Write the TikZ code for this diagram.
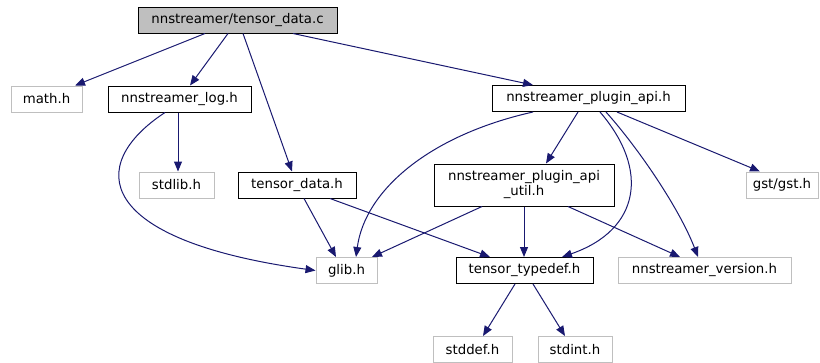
\documentclass[tikz,border=0pt]{standalone}
\usepackage{fontspec}
\setmainfont{DejaVu Sans}
\usepackage{tikz}
\usetikzlibrary{positioning,arrows.meta}
\definecolor{edgeblue}{RGB}{25,25,112}
\definecolor{sysgray}{RGB}{191,191,191}

\begin{document}
\begin{tikzpicture}[x=1pt, y=-1pt,
  filebox/.style={draw=black, line width=1pt, inner sep=0pt, minimum height=26pt, font=\fontsize{13.3}{15}\selectfont, align=center},
  sysbox/.style={filebox, draw=sysgray},
  curbox/.style={filebox, fill=sysgray},
  dep/.style={draw=edgeblue, line width=1pt, -{Triangle[length=10pt,width=8pt]}}]
\useasboundingbox (0,0) rectangle (820,362);
% files
\node[curbox, minimum width=199pt] (tdc) at (237.5,20) {nnstreamer/tensor\_data.c};
\node[sysbox, minimum width=71pt] (math) at (46.5,99) {math.h};
\node[filebox, minimum width=143pt] (log) at (179.5,99) {nnstreamer\_log.h};
\node[filebox, minimum width=193pt] (papi) at (588.5,98.5) {nnstreamer\_plugin\_api.h};
\node[sysbox, minimum width=75pt] (stdlib) at (176.5,185) {stdlib.h};
\node[filebox, minimum width=118pt] (tdh) at (297,185) {tensor\_data.h};
\node[filebox, minimum width=180pt, minimum height=42pt] (util) at (524,185) {nnstreamer\_plugin\_api\\\_util.h};
\node[sysbox, minimum width=72pt] (gst) at (782,185) {gst/gst.h};
\node[sysbox, minimum width=61pt] (glib) at (346.5,270.5) {glib.h};
\node[filebox, minimum width=137pt] (tdef) at (524.5,270.5) {tensor\_typedef.h};
\node[sysbox, minimum width=173pt] (ver) at (704.5,270.5) {nnstreamer\_version.h};
\node[sysbox, minimum width=79pt] (stddef) at (472.5,349.5) {stddef.h};
\node[sysbox, minimum width=74pt] (stdint) at (575,349.5) {stdint.h};
% includes
\draw[dep] (tdc.south -| 205,0) -- (math.north -| 75,0);
\draw[dep] (tdc.south -| 228,0) -- (log.north -| 190,0);
\draw[dep] (tdc.south -| 243,0) -- (tdh.north -| 292,0);
\draw[dep] (tdc.south -| 293,0) -- (papi.north -| 533,0);
\draw[dep] (log.south -| 178,0) -- (stdlib.north -| 178,0);
\draw[dep] (log.south -| 165,0) .. controls (85,165) and (95,240) .. (glib.west);
\draw[dep] (tdh.south -| 304,0) -- (glib.north -| 336,0);
\draw[dep] (tdh.south -| 330,0) -- (tdef.north -| 490,0);
\draw[dep] (papi.south -| 533,0) .. controls (430,135) and (365,190) .. (glib.north -| 356,0);
\draw[dep] (papi.south -| 578,0) -- (util.north -| 546,0);
\draw[dep] (papi.south -| 600,0) .. controls (650,170) and (640,230) .. (tdef.north -| 562,0);
\draw[dep] (papi.south -| 606,0) .. controls (640,150) and (680,210) .. (ver.north -| 698,0);
\draw[dep] (papi.south -| 617,0) -- (gst.north -| 760,0);
\draw[dep] (util.south -| 482,0) -- (glib.north -| 372,0);
\draw[dep] (util.south -| 524,0) -- (tdef.north -| 524,0);
\draw[dep] (util.south -| 568,0) -- (ver.north -| 680,0);
\draw[dep] (tdef.south -| 515,0) -- (stddef.north -| 483,0);
\draw[dep] (tdef.south -| 533,0) -- (stdint.north -| 565,0);
\end{tikzpicture}
\end{document}
